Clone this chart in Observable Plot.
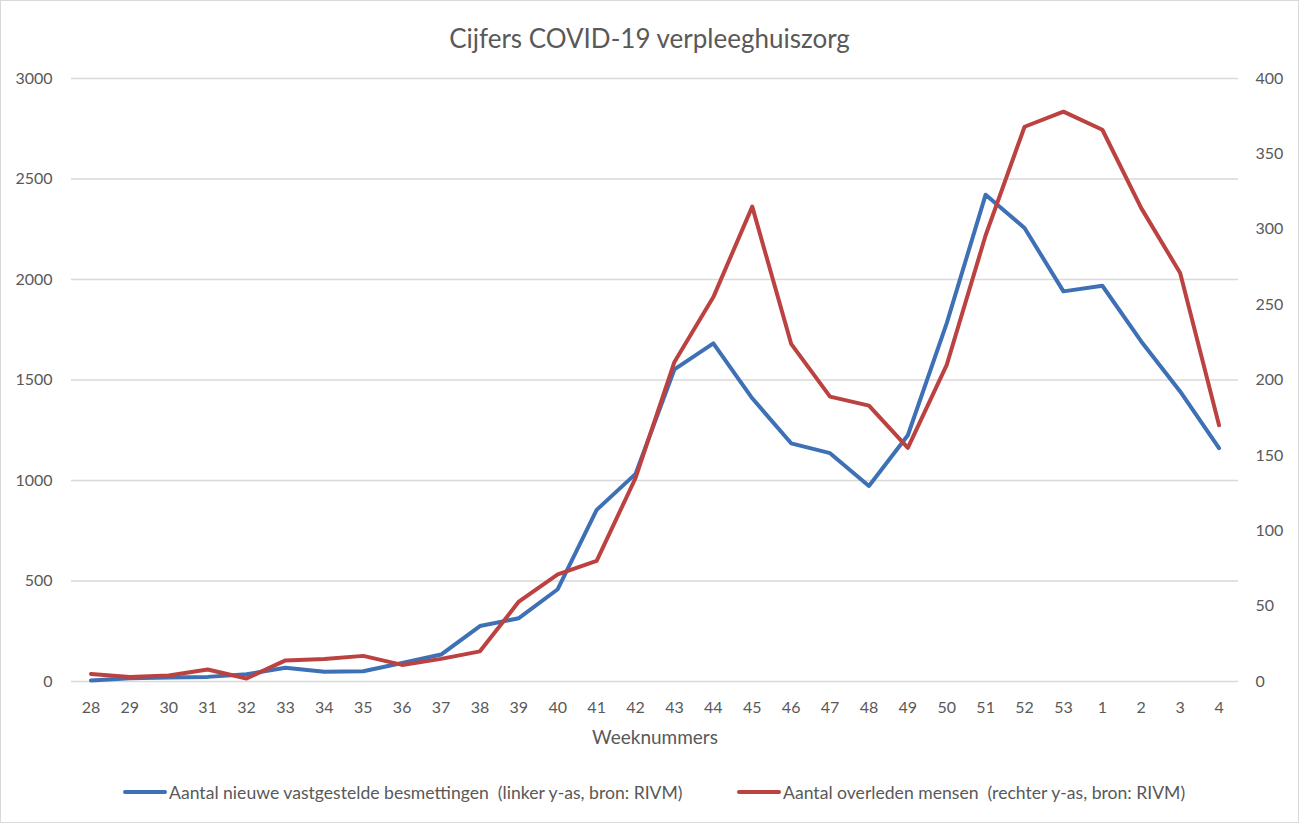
<!DOCTYPE html>
<html>
<head>
<meta charset="utf-8">
<script src="https://cdn.jsdelivr.net/npm/d3@7"></script>
<script src="https://cdn.jsdelivr.net/npm/@observablehq/plot@0.6"></script>
<style>
  html, body { margin: 0; padding: 0; background: #fff; }
  #wrap { position: relative; width: 1299px; height: 823px; overflow: hidden; font-family: Lato, "Open Sans", sans-serif; color: #595959; }
  #border { position: absolute; left: 0; top: 0; width: 1299px; height: 823px; box-sizing: border-box; border: 1px solid #d9d9d9; pointer-events: none; }
  #chart { position: absolute; left: 0; top: 0; }
  #title { position: absolute; left: 0; width: 1299px; top: 22px; text-align: center; font-size: 26px; line-height: 32px; color: #595959; }
  .leg { position: absolute; top: 780px; height: 24px; display: flex; align-items: center; font-size: 17.6px; white-space: pre; color: #595959; }
  .sw { display: inline-block; width: 44px; height: 4px; border-radius: 2px; margin-right: 2px; }
</style>
</head>
<body>
<div id="wrap">
  <div id="chart"></div>
  <div id="title">Cijfers COVID-19 verpleeghuiszorg</div>
  <div class="leg" id="leg1" style="left:123px"><span class="sw" style="background:#3E70B6"></span><span>Aantal nieuwe vastgestelde besmettingen  (linker y-as, bron: RIVM)</span></div>
  <div class="leg" id="leg2" style="left:737px"><span class="sw" style="background:#BB4240"></span><span>Aantal overleden mensen  (rechter y-as, bron: RIVM)</span></div>
  <div id="border"></div>
</div>
<script>
const weeks = ["28","29","30","31","32","33","34","35","36","37","38","39","40","41","42","43","44","45","46","47","48","49","50","51","52","53","1","2","3","4"];
const infections = [5,16,20,23,36,68,48,51,92,134,276,315,459,854,1033,1553,1682,1409,1185,1136,973,1225,1783,2422,2256,1941,1969,1692,1443,1161];
const deaths = [5,3,4,8,2,14,15,17,11,15,20,53,71,80,135,212,255,315,224,189,183,155,210,296,368,378,366,314,271,170];
const leftTicks = [0,500,1000,1500,2000,2500,3000];
const rightTicks = [0,50,100,150,200,250,300,350,400];
const xTitle = "Weeknummers";

const RATIO = 3000 / 400;
const blue = "#3E70B6";
const red = "#BB4240";

const rows = weeks.map((w, i) => ({week: w, inf: infections[i], dead: deaths[i]}));

const chart = Plot.plot({
  width: 1299,
  height: 760,
  marginTop: 78,
  marginBottom: 79,
  marginLeft: 71,
  marginRight: 61,
  style: {fontFamily: "Lato, 'Open Sans', sans-serif", color: "#595959", background: "transparent"},
  x: {type: "point", domain: weeks, padding: 0.5, round: false, label: null},
  y: {domain: [0, 3000], label: null},
  marks: [
    Plot.gridY(leftTicks, {stroke: "#d9d9d9", strokeOpacity: 1, strokeWidth: 1.4}),
    Plot.axisY(leftTicks, {anchor: "left", tickSize: 0, tickPadding: 19, fontSize: 16, fill: "#595959", tickFormat: d => String(d), label: null}),
    Plot.axisY(rightTicks.map(d => d * RATIO), {anchor: "right", tickSize: 0, tickPadding: 17, fontSize: 16, fill: "#595959", tickFormat: d => String(Math.round(d / RATIO)), label: null}),
    Plot.axisX({tickSize: 0, tickPadding: 20, fontSize: 16, fill: "#595959", label: null}),
    Plot.text([xTitle], {frameAnchor: "bottom", dy: 56, text: d => d, fontSize: 19, fill: "#595959", lineAnchor: "middle"}),
    Plot.line(rows, {x: "week", y: "inf", stroke: blue, strokeWidth: 4, strokeLinejoin: "round", strokeLinecap: "round"}),
    Plot.line(rows, {x: "week", y: d => d.dead * RATIO, stroke: red, strokeWidth: 4, strokeLinejoin: "round", strokeLinecap: "round"})
  ]
});
document.getElementById("chart").appendChild(chart);
</script>
</body>
</html>
